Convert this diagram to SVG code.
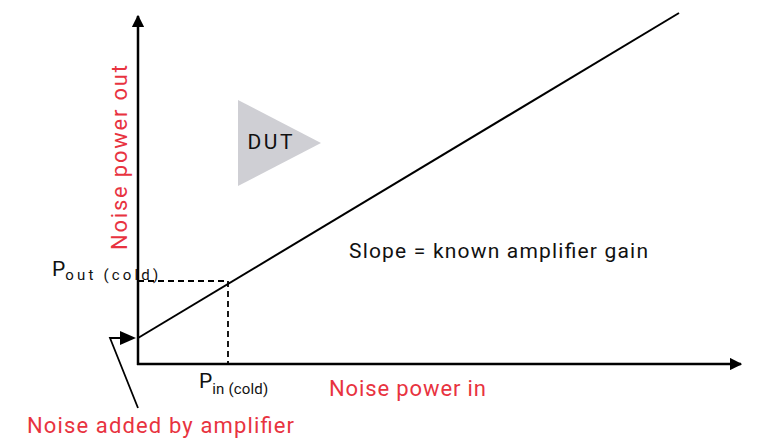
<svg xmlns="http://www.w3.org/2000/svg" width="777" height="445" viewBox="0 0 777 445">
<style>
text{font-family:Roboto,"Liberation Sans",Arial,sans-serif}
.red{fill:#e8333f;font-size:22px}
.blk{fill:#111;font-size:21px}
.sub{font-size:15px}
.ax{stroke:#000;stroke-width:2.5;fill:none}
.dash{stroke:#000;stroke-width:1.8;stroke-dasharray:6,4;fill:none}
</style>
<defs>
<marker id="ah" viewBox="0 0 10 10" refX="9" refY="5" markerWidth="5" markerHeight="5" orient="auto"><path d="M0,0L10,5L0,10z" fill="#000"/></marker>
</defs>
<rect width="777" height="445" fill="#fff"/>
<g id="connectors">
<line class="ax" x1="138" y1="365" x2="138" y2="16" marker-end="url(#ah)"/>
<line class="ax" x1="137" y1="364" x2="741" y2="364" marker-end="url(#ah)"/>
<line x1="138" y1="338" x2="679" y2="13" stroke="#000" stroke-width="2"/>
<path class="dash" d="M138,281H228V364"/>
<path d="M138,408L110,338H124" stroke="#000" stroke-width="1.8" fill="none"/>
<path d="M136,338L120,331V345z" fill="#000"/>
</g>
<g id="dut"><polygon points="238,100 238,186 321,143" fill="#cfcfd4"/><text x="270" y="149" class="blk" text-anchor="middle" textLength="45">DUT</text></g>
<g id="labels">
<text class="red" transform="translate(127,250) rotate(-90)" textLength="185">Noise power out</text>
<text class="red" x="329" y="396" textLength="157">Noise power in</text>
<text class="red" x="27" y="433" textLength="267">Noise added by amplifier</text>
<text class="blk" x="349" y="258" textLength="299">Slope = known amplifier gain</text>
<text class="blk" x="52" y="276">P<tspan class="sub" dy="4" textLength="93">out (cold)</tspan></text>
<text class="blk" x="199" y="388">P<tspan class="sub" dy="6" textLength="56">in (cold)</tspan></text>
</g>
</svg>
